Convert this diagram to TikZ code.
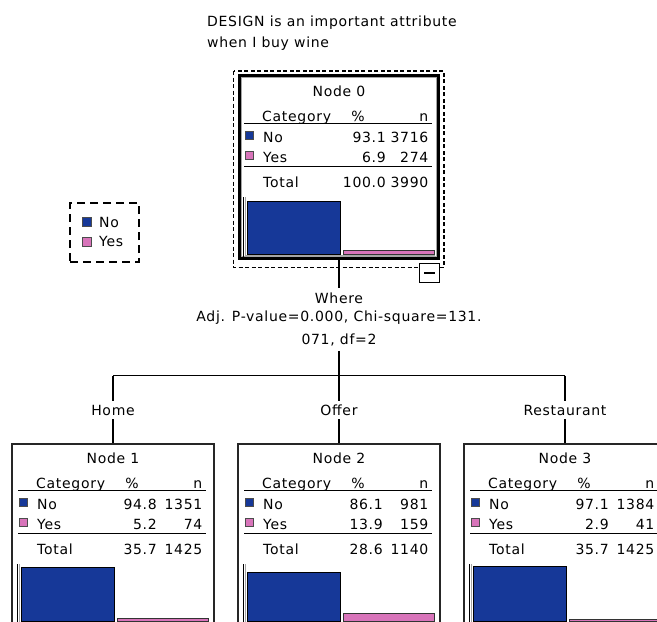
\documentclass[tikz,border=0pt]{standalone}
\usepackage{fontspec}
\setmainfont{DejaVu Sans}[LetterSpace=5]
\definecolor{catno}{RGB}{22,56,152}
\definecolor{catyes}{RGB}{216,116,186}
\definecolor{edgegray}{RGB}{165,165,165}

\tikzset{
  lbl/.style={inner sep=0pt, font=\fontsize{14}{18.4}\selectfont},
  conn/.style={draw=black, line width=1.1pt},
  rule/.style={draw=black, line width=1.4pt},
  childbox/.style={draw=black!85, line width=1.2pt, fill=white, anchor=north,
    minimum width=202pt, minimum height=220pt, inner sep=0pt},
  rootbox/.style={draw=black, line width=3pt, fill=white, anchor=north,
    minimum width=199pt, minimum height=183pt, inner sep=0pt},
  selbox/.style={draw=black, line width=1.1pt, dash pattern=on 4pt off 2.5pt},
  legendbox/.style={draw=black, line width=1.1pt, dash pattern=on 8pt off 5pt,
    minimum width=69pt, minimum height=59pt, inner sep=0pt},
  swatch/.style={draw=black!70, line width=0.6pt},
  barno/.style={fill=catno, draw=black, line width=1pt},
  baryes/.style={fill=catyes, draw=black!80, line width=1pt},
  branch/.style={lbl, text height=10.6pt, text depth=1pt, inner ysep=3pt, anchor=base},
}

% column of the percentages, measured from the centre of a table
\newcommand\pctcol{44}

% #1 node number, #2 centre x, #3 top of the table area,
% #4/#5 No % and n, #6/#7 Yes % and n, #8/#9 Total % and n
\newcommand\nodetable[9]{%
  \node[lbl, anchor=base] (t#1-head) at (#2, #3+19.5) {Node #1};
  \node[lbl, anchor=base west] (t#1-cat) at (#2-77, #3+44) {Category};
  \node[lbl, anchor=base] (t#1-pc) at (#2+19, #3+44) {\%};
  \node[lbl, anchor=base east] (t#1-n) at (#2+89.5, #3+44) {n};
  \draw[rule] (#2-95, #3+46.5) -- (#2+93, #3+46.5);
  % No row
  \draw[swatch, fill=catno] (#2-94, #3+54) rectangle ++(8.5, 8);
  \node[lbl, anchor=base west] (t#1-no) at (#2-76, #3+65) {No};
  \node[lbl, anchor=base east] (t#1-nopc) at (#2+\pctcol, #3+65) {#4};
  \node[lbl, anchor=base east] (t#1-non) at (#2+89.5, #3+65) {#5};
  % Yes row
  \draw[swatch, fill=catyes] (#2-94, #3+74) rectangle ++(8.5, 8);
  \node[lbl, anchor=base west] (t#1-yes) at (#2-76, #3+85) {Yes};
  \node[lbl, anchor=base east] (t#1-yespc) at (#2+\pctcol, #3+85) {#6};
  \node[lbl, anchor=base east] (t#1-yesn) at (#2+89.5, #3+85) {#7};
  \draw[rule] (#2-95, #3+89.5) -- (#2+93, #3+89.5);
  % Total row
  \node[lbl, anchor=base west] (t#1-tot) at (#2-76, #3+110.5) {Total};
  \node[lbl, anchor=base east] (t#1-totpc) at (#2+\pctcol, #3+110.5) {#8};
  \node[lbl, anchor=base east] (t#1-totn) at (#2+89.5, #3+110.5) {#9};
  % bar chart, 100% = 57pt
  \pgfmathsetmacro\tblbase{#3+177.5}
  \pgfmathsetmacro\tblhno{#4*0.57}
  \pgfmathsetmacro\tblhyes{#6*0.57}
  \draw[barno] (#2-92, \tblbase) rectangle (#2+1, \tblbase-\tblhno);
  \draw[baryes] (#2+4, \tblbase) rectangle (#2+95, \tblbase-\tblhyes);
  \draw[edgegray, line width=1pt] (#2-93.5, #3+120) -- (#2-93.5, \tblbase+1) -- (#2+96, \tblbase+1);
  \draw[black, line width=1pt] (#2-95.5, #3+120) -- (#2-95.5, \tblbase+2.5) -- (#2+96, \tblbase+2.5);
}

\begin{document}
\begin{tikzpicture}[x=1pt, y=-1pt]
\useasboundingbox (0,0) rectangle (657,622);
\clip (0,0) rectangle (657,622);

% title of the tree
\node[lbl, anchor=base west] (title1) at (207,26.3) {DESIGN is an important attribute};
\node[lbl, anchor=base west] (title2) at (207,47) {when I buy wine};

% legend
\node[legendbox] (legend) at (104.5,232.5) {};
\draw[swatch, fill=catno] (82,217.5) rectangle ++(9,9);
\node[lbl, anchor=base west] (leg-no) at (99,227) {No};
\draw[swatch, fill=catyes] (82,237) rectangle ++(9,9);
\node[lbl, anchor=base west] (leg-yes) at (99,246.5) {Yes};

% root node, selected
\node[rootbox] (n0) at (339,74) {};
\draw[edgegray, line width=1pt] ([shift={(3.5,3.5)}]n0.north west) rectangle ([shift={(-3.5,-3.5)}]n0.south east);
\draw[selbox] ([shift={(-4.5,-3)}]n0.north west) rectangle ([shift={(4,7.5)}]n0.south east);
\renewcommand\pctcol{47}
\nodetable{0}{339}{77}{93.1}{3716}{6.9}{274}{100.0}{3990}
\renewcommand\pctcol{44}
\node[draw=black, line width=1pt, fill=white, minimum width=20pt, minimum height=19pt, inner sep=0pt] (collapse) at (429.5,273) {};
\draw[line width=1.2pt] ([xshift=-5.5pt]collapse.center) -- ([xshift=5.5pt]collapse.center);

% split on Where
\node[lbl, align=center, anchor=north, inner xsep=0pt, inner ysep=4.7pt] (split) at (339,288)
  {Where\\Adj. P-value=0.000, Chi-square=131.\\[3.9pt]071, df=2};
\draw[conn] (n0.south) -- (split.north);

\coordinate (fork) at (339,375.5);
\coordinate (forkL) at (113,375.5);
\coordinate (forkR) at (565,375.5);
\draw[conn] (split.south) -- (fork);
\draw[conn] (forkL) -- (forkR);

\node[branch] (b1) at (113,415) {Home};
\node[branch] (b2) at (339,415) {Offer};
\node[branch] (b3) at (565,415) {Restaurant};

\node[childbox] (n1) at (113,443.4) {};
\node[childbox] (n2) at (339,443.4) {};
\node[childbox] (n3) at (565,443.4) {};

\draw[conn] (forkL) -- (b1.north);
\draw[conn] (fork) -- (b2.north);
\draw[conn] (forkR) -- (b3.north);
\draw[conn] (b1.south) -- (n1.north);
\draw[conn] (b2.south) -- (n2.north);
\draw[conn] (b3.south) -- (n3.north);

\nodetable{1}{113}{444}{94.8}{1351}{5.2}{74}{35.7}{1425}
\nodetable{2}{339}{444}{86.1}{981}{13.9}{159}{28.6}{1140}
\nodetable{3}{565}{444}{97.1}{1384}{2.9}{41}{35.7}{1425}
\end{tikzpicture}
\end{document}
